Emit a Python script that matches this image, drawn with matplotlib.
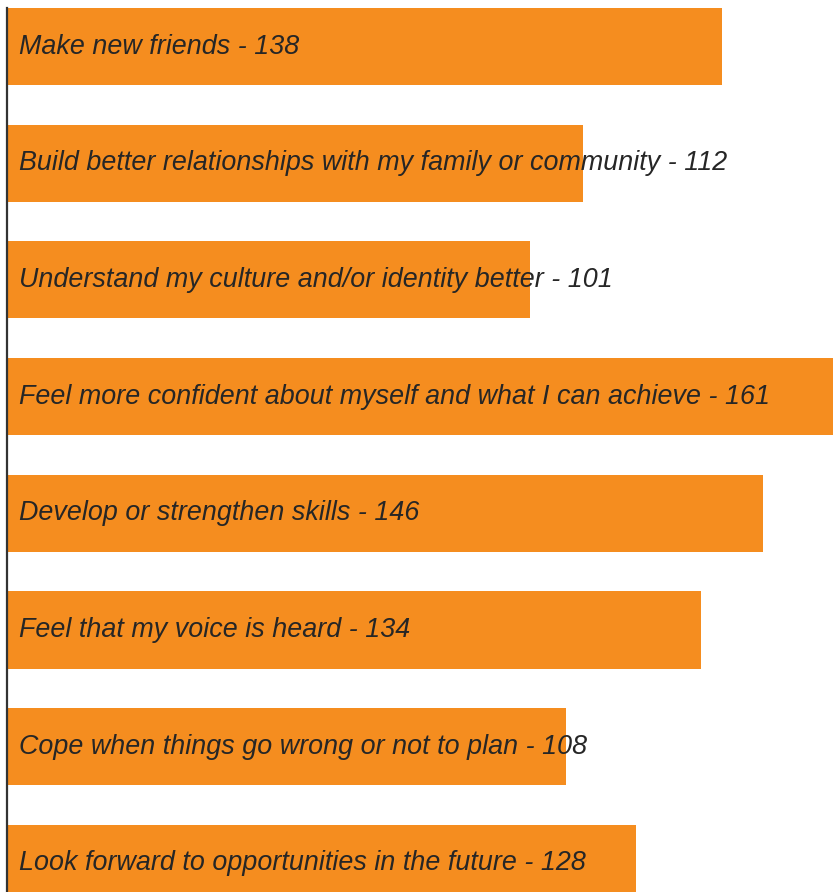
import matplotlib
matplotlib.use("Agg")
import matplotlib.pyplot as plt

categories = [
    "Make new friends",
    "Build better relationships with my family or community",
    "Understand my culture and/or identity better",
    "Feel more confident about myself and what I can achieve",
    "Develop or strengthen skills",
    "Feel that my voice is heard",
    "Cope when things go wrong or not to plan",
    "Look forward to opportunities in the future",
]
label_values = [138, 112, 101, 161, 146, 134, 108, 128]
# bar lengths as drawn in the picture
bar_values = [138, 111.2, 101, 161, 146, 134, 108, 121.4]

W, H = 833, 892
fig = plt.figure(figsize=(W / 100, H / 100), dpi=100)
ax = fig.add_axes([7 / W, 0, 826 / W, 884 / H])

ys = list(range(len(categories)))
ax.barh(ys, bar_values, height=0.66, color="#F58D1F", zorder=1)
ax.set_xlim(0, 159.5)
ax.set_ylim(7.245, -0.33)

for y, c, v in zip(ys, categories, label_values):
    ax.annotate(f"{c} - {v}", xy=(0, y), xytext=(12, 0), textcoords="offset pixels",
                va="center", ha="left", fontsize=19.4, style="italic",
                family=["Liberation Sans", "DejaVu Sans"], color="#262626", zorder=3,
                annotation_clip=False)

for s in ["top", "right", "bottom"]:
    ax.spines[s].set_visible(False)
ax.spines["left"].set_color("#333333")
ax.spines["left"].set_linewidth(1.6)
ax.spines["left"].set_zorder(4)
ax.set_xticks([])
ax.set_yticks([])

fig.savefig("out.png", dpi=100)
